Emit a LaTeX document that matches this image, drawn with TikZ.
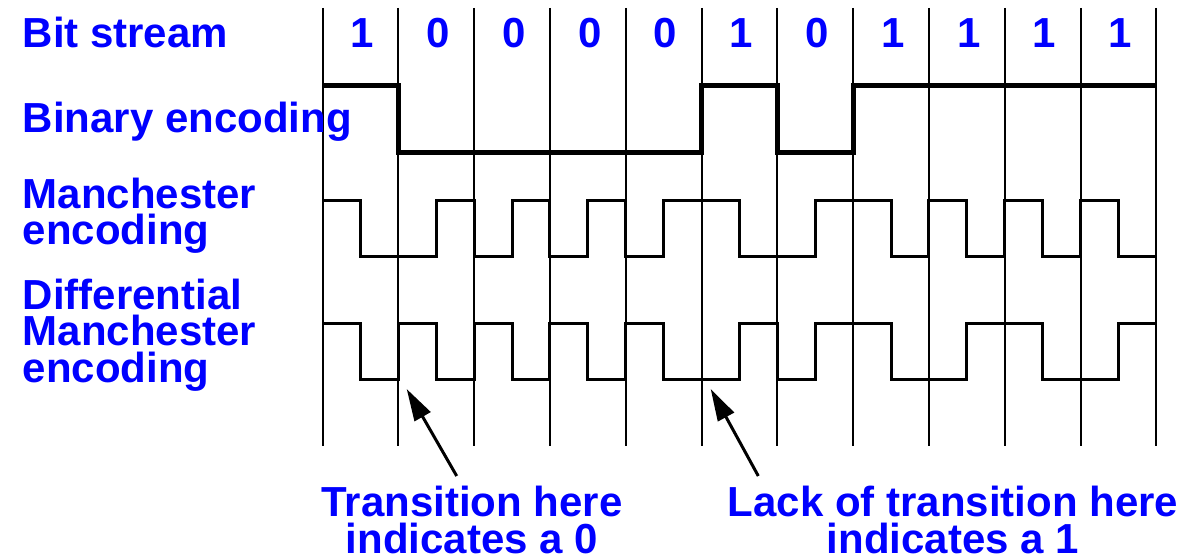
\documentclass[tikz,border=0pt]{standalone}
\usepackage{fontspec}
\setmainfont{Liberation Sans}
\usetikzlibrary{arrows.meta}
\definecolor{lblue}{RGB}{0,0,255}
\begin{document}
\begin{tikzpicture}[x=1pt,y=-1pt,
  lbl/.style={font=\fontsize{42}{36.5}\selectfont\bfseries, text=lblue, inner sep=0pt, align=left, anchor=base west},
  digit/.style={font=\fontsize{42}{42}\selectfont\bfseries, text=lblue, inner sep=0pt, anchor=base},
  note/.style={font=\fontsize{42}{36.5}\selectfont\bfseries, text=lblue, inner sep=0pt, align=center, anchor=base},
  gridline/.style={line width=2pt},
  binwave/.style={line width=5pt, line join=miter},
  manwave/.style={line width=3pt, line join=miter},
  pointer/.style={line width=3pt, -{Triangle[length=32pt,width=18pt]}}
]
\useasboundingbox (0,0) rectangle (1185,556);

% bit cell boundaries
\foreach \k in {0,...,11}{
  \pgfmathsetmacro{\xx}{322.5+75.8*\k}
  \coordinate (top\k) at (\xx,8);
  \coordinate (bot\k) at (\xx,446);
  \draw[gridline] (top\k) -- (bot\k);
}

% bit values
\foreach \b [count=\i from 0] in {1,0,0,0,0,1,0,1,1,1,1}{
  \pgfmathsetmacro{\xm}{322.5+75.8*\i+37.9+2}
  \node[digit] (bit\i) at (\xm,48) {\b};
}

% labels (base anchor = baseline of the last line)
\node[lbl] (lbit) at (22.5,48) {Bit stream};
\node[lbl] (lbin) at (22.5,132.5) {Binary encoding};
\node[lbl] (lman) at (22.5,244.5) {Manchester\\encoding};
\node[lbl] (ldif) at (22.5,382) {Differential\\Manchester\\encoding};

% binary encoding
\draw[binwave] (322.5,86) -- (398.3,86) -- (398.3,153) -- (701.5,153) -- (701.5,86)
  -- (777.3,86) -- (777.3,153) -- (853.1,153) -- (853.1,86) -- (1156.3,86);

% Manchester encoding
\draw[manwave] (322.5,200) -- (360.4,200) -- (360.4,256) -- (436.2,256) -- (436.2,200)
  -- (474.1,200) -- (474.1,256) -- (512.0,256) -- (512.0,200) -- (549.9,200)
  -- (549.9,256) -- (587.8,256) -- (587.8,200) -- (625.7,200) -- (625.7,256)
  -- (663.6,256) -- (663.6,200) -- (739.4,200) -- (739.4,256) -- (815.2,256)
  -- (815.2,200) -- (891.0,200) -- (891.0,256) -- (928.9,256) -- (928.9,200)
  -- (966.8,200) -- (966.8,256) -- (1004.7,256) -- (1004.7,200) -- (1042.6,200)
  -- (1042.6,256) -- (1080.5,256) -- (1080.5,200) -- (1118.4,200) -- (1118.4,256)
  -- (1156.3,256);

% Differential Manchester encoding
\draw[manwave] (322.5,323) -- (360.4,323) -- (360.4,379) -- (398.3,379) -- (398.3,323)
  -- (436.2,323) -- (436.2,379) -- (474.1,379) -- (474.1,323) -- (512.0,323)
  -- (512.0,379) -- (549.9,379) -- (549.9,323) -- (587.8,323) -- (587.8,379)
  -- (625.7,379) -- (625.7,323) -- (663.6,323) -- (663.6,379) -- (739.4,379)
  -- (739.4,323) -- (777.3,323) -- (777.3,379) -- (815.2,379) -- (815.2,323)
  -- (891.0,323) -- (891.0,379) -- (966.8,379) -- (966.8,323) -- (1042.6,323)
  -- (1042.6,379) -- (1118.4,379) -- (1118.4,323) -- (1156.3,323);

% annotations
\node[note] (n0) at (472,553) {Transition here\\indicates a 0};
\node[note] (n1) at (953,553) {Lack of transition here\\indicates a 1};
\coordinate (tail0) at (456.7,476);
\coordinate (tip0) at (406.7,389);
\coordinate (tail1) at (758.3,476);
\coordinate (tip1) at (710.7,389);
\draw[pointer] (tail0) -- (tip0);
\draw[pointer] (tail1) -- (tip1);
\end{tikzpicture}
\end{document}
